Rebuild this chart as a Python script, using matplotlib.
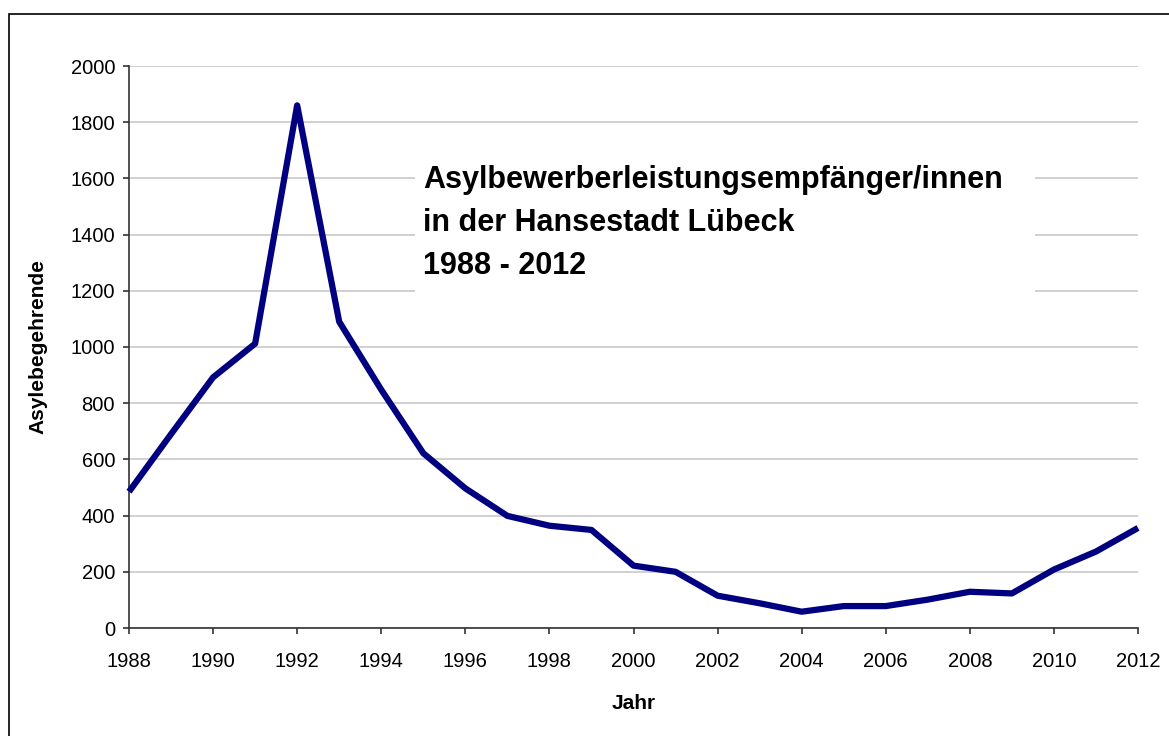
import matplotlib
matplotlib.use("Agg")
import matplotlib.pyplot as plt
from matplotlib.patches import Rectangle

plt.rcParams['font.family'] = ['Liberation Sans', 'DejaVu Sans']

# Asylbewerberleistungsempfaenger Luebeck
jahre = list(range(1988, 2013))
werte = [485, 690, 892, 1012, 1860, 1090, 848, 622, 497, 399, 364, 349,
         222, 200, 115, 88, 58, 78, 78, 101, 129, 123, 208, 272, 356]

titel = "Asylbewerberleistungsempfänger/innen\nin der Hansestadt Lübeck\n1988 - 2012"

fig = plt.figure(figsize=(11.69, 7.36), dpi=100)
ax = fig.add_axes([129/1169, 1-628/736, (1138-129)/1169, (628-66)/736])

ax.plot(jahre, werte, color='#000080', lw=4.5, solid_joinstyle='round',
        solid_capstyle='butt', clip_on=False, zorder=3)

ax.set_xlim(1988, 2012)
ax.set_ylim(0, 2000)
ax.set_xticks(range(1988, 2013, 2))
ax.set_yticks(range(0, 2001, 200))
ax.grid(axis='y', color='#c8c8c8', lw=1.2)
ax.set_axisbelow(True)
for s in ['top', 'right']:
    ax.spines[s].set_visible(False)
for s in ['left', 'bottom']:
    ax.spines[s].set_color('#333333')
    ax.spines[s].set_linewidth(1.2)
ax.tick_params(direction='out', length=4, width=1.2, color='#333333', labelsize=14.5)
ax.tick_params(axis='x', pad=13)
ax.tick_params(axis='y', pad=6)

ax.set_xlabel("Jahr", fontsize=15, fontweight='bold')
ax.set_ylabel("Asylebegehrende", fontsize=15, fontweight='bold')
ax.xaxis.set_label_coords(0.5, (628-694)/562)
ax.yaxis.set_label_coords((47-129)/1009, 0.5)

# weisser Hintergrund hinter dem Titel
ax.add_patch(Rectangle((0.2834, 0.5836), 0.6146, 0.2934, transform=ax.transAxes,
                       facecolor='white', edgecolor='none', zorder=2))
ax.text(0.2914, 0.823, titel, transform=ax.transAxes, fontsize=22, fontweight='bold',
        va='top', ha='left', linespacing=1.55, zorder=4)

# Rahmen um das Diagramm
fig.patches.append(Rectangle((9/1169, -0.05), 1.1, 1-14/736+0.05, transform=fig.transFigure,
                             fill=False, edgecolor='black', lw=1.2))

fig.savefig("out.png", dpi=100)
